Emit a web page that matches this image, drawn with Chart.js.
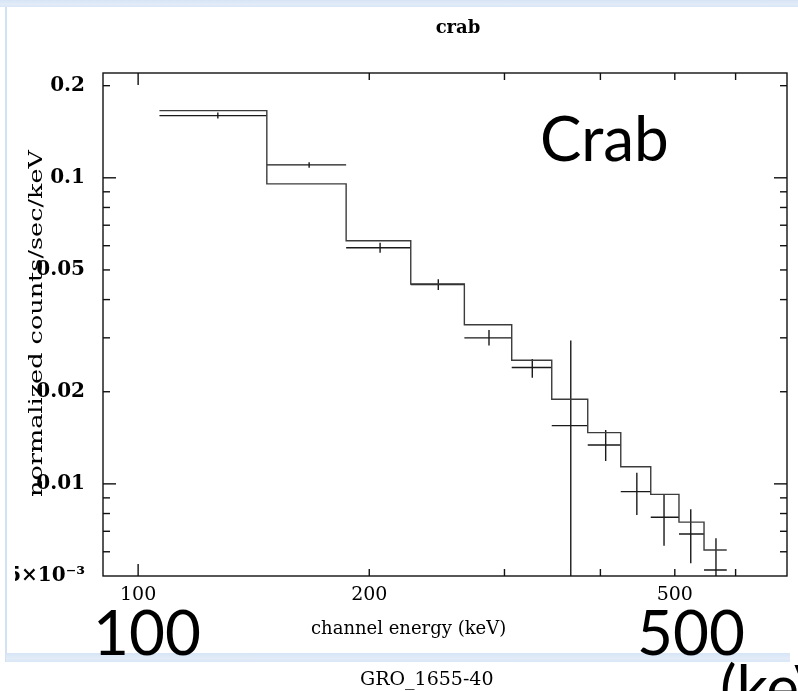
<!DOCTYPE html>
<html>
<head>
<meta charset="utf-8">
<script src="https://cdn.jsdelivr.net/npm/chart.js@4.4.1/dist/chart.umd.min.js"></script>
<style>
  html, body { margin: 0; padding: 0; background: #ffffff; overflow: hidden; }
  #page { position: relative; width: 798px; height: 691px; overflow: hidden; background: #ffffff; }
  .band { position: absolute; background: linear-gradient(180deg, #d6e4f5 0%, #e3ecf8 60%, #d9e6f6 100%); }
  #bandTop { left: 0; top: 0; width: 798px; height: 7px; }
  #bandBottom { left: 6px; top: 653px; width: 784px; height: 9px; }
  #lineLeft { position: absolute; left: 5px; top: 7px; width: 2px; height: 655px; background: #d3e2f3; }
  #chartBox { position: absolute; left: 15px; top: 0; width: 783px; height: 691px; }
</style>
</head>
<body>
<div id="page">
  <div id="bandTop" class="band"></div>
  <div id="lineLeft"></div>
  <div id="bandBottom" class="band"></div>
  <div id="chartBox"><canvas id="c" width="783" height="691"></canvas></div>
</div>
<script>
// ---- data (channel energy in keV, rate in normalized counts/sec/keV) ----
const binLo     = [106.6, 147.1, 186.6, 226.5, 266.0, 306.6, 345.7, 385.1, 425.2, 465.2, 506.3, 545.8];
const binHi     = [147.1, 186.6, 226.5, 266.0, 306.6, 345.7, 385.1, 425.2, 465.2, 506.3, 545.8, 584.3];
const binCenter = [127.0, 167.0, 206.6, 246.0, 286.4, 326.1, 366.0, 406.4, 446.2, 484.1, 524.5, 565.7];
const dataRate  = [0.1597, 0.1102, 0.0591, 0.0448, 0.0300, 0.0240, 0.0155, 0.0134, 0.00943, 0.00778, 0.00686, 0.00523];
const errHigh   = [0.1633, 0.1125, 0.0614, 0.0466, 0.0318, 0.0256, 0.0294, 0.0150, 0.01088, 0.00920, 0.00826, 0.00664];
const errLow    = [0.1561, 0.1079, 0.0569, 0.0430, 0.0283, 0.0222, 0.0040, 0.01188, 0.00791, 0.00628, 0.00550, 0.00490];
const modelRate = [0.1658, 0.0955, 0.0623, 0.0450, 0.0331, 0.02535, 0.0189, 0.0147, 0.01138, 0.00924, 0.00750, 0.00608];

const xTickValues = [100, 200, 500];
const xTickLabels = ['100', '200', '500'];
const yTickValues = [0.005, 0.01, 0.02, 0.05, 0.1, 0.2];
const yTickLabels = ['5\u00d710\u207b\u00b3', '0.01', '0.02', '0.05', '0.1', '0.2'];
const xMajorMarks = [100];
const xMinorMarks = [200, 300, 400, 500, 600];
const yMajorMarks = [0.01, 0.1];
const yMinorMarks = [0.006, 0.007, 0.008, 0.009, 0.02, 0.03, 0.04, 0.05, 0.06, 0.07, 0.08, 0.09, 0.2];

const plotTitle = 'crab';
const xTitle = 'channel energy (keV)';
const yTitle = 'normalized counts/sec/keV';
const footerText = 'GRO_1655-40';
const slideTexts = [
  { text: 'Crab', x: 540, y: 161 },
  { text: '100',  x: 93,  y: 655 },
  { text: '500',  x: 637, y: 655 },
  { text: '(keV)', x: 720, y: 710 }
];

// ---- build library datasets from the arrays ----
const modelPoints = [];
binLo.forEach((lo, i) => {
  modelPoints.push({ x: lo, y: modelRate[i] });
  modelPoints.push({ x: binHi[i], y: modelRate[i] });
});
const crossPoints = [];
binLo.forEach((lo, i) => {
  crossPoints.push({ x: lo, y: dataRate[i] });
  crossPoints.push({ x: binHi[i], y: dataRate[i] });
  crossPoints.push({ x: binCenter[i], y: null });
  crossPoints.push({ x: binCenter[i], y: errLow[i] });
  crossPoints.push({ x: binCenter[i], y: errHigh[i] });
  crossPoints.push({ x: binCenter[i], y: null });
});

const OX = 15; // canvas offset inside the page

const framePlugin = {
  id: 'frameTicks',
  afterDatasetsDraw(chart) {
    const { ctx, chartArea: a, scales: { x, y } } = chart;
    ctx.save();
    ctx.strokeStyle = '#111';
    ctx.lineWidth = 1.4;
    ctx.strokeRect(a.left, a.top, a.right - a.left, a.bottom - a.top);
    const seg = (x1, y1, x2, y2) => { ctx.beginPath(); ctx.moveTo(x1, y1); ctx.lineTo(x2, y2); ctx.stroke(); };
    const xm = (vals, len) => vals.forEach(v => {
      const p = x.getPixelForValue(v);
      seg(p, a.bottom, p, a.bottom - len);
      seg(p, a.top, p, a.top + len);
    });
    const ym = (vals, len) => vals.forEach(v => {
      const p = y.getPixelForValue(v);
      seg(a.left, p, a.left + len, p);
      seg(a.right, p, a.right - len, p);
    });
    xm(xMajorMarks, 12); xm(xMinorMarks, 7);
    ym(yMajorMarks, 13); ym(yMinorMarks, 7);
    ctx.restore();
  },
  afterDraw(chart) {
    const { ctx } = chart;
    ctx.save();
    ctx.fillStyle = '#000';
    // y axis title, stretched along the axis like the original
    ctx.save();
    ctx.translate(42 - OX, 323.5);
    ctx.rotate(-Math.PI / 2);
    ctx.font = '19px "DejaVu Serif"';
    const w = ctx.measureText(yTitle).width;
    ctx.scale(347 / w, 1);
    ctx.textAlign = 'center';
    ctx.textBaseline = 'alphabetic';
    ctx.fillText(yTitle, 0, 0);
    ctx.restore();
    // x axis title
    ctx.font = '18px "DejaVu Serif"';
    ctx.textAlign = 'left';
    ctx.textBaseline = 'alphabetic';
    ctx.fillText(xTitle, 311 - OX, 634);
    // plot title
    ctx.font = 'bold 18px "DejaVu Serif"';
    ctx.textAlign = 'center';
    ctx.fillText(plotTitle, 458 - OX, 33);
    // footer
    ctx.textAlign = 'left';
    ctx.font = '19px "DejaVu Serif"';
    ctx.fillText(footerText, 360 - OX, 685);
    // slide annotations
    ctx.font = '62px Lato';
    slideTexts.forEach(t => ctx.fillText(t.text, t.x - OX, t.y));
    ctx.restore();
  }
};

new Chart(document.getElementById('c'), {
  type: 'scatter',
  data: {
    datasets: [
      { label: 'model', data: modelPoints, showLine: true, borderColor: '#3c3c3c', borderWidth: 1.4,
        pointRadius: 0, pointHoverRadius: 0, tension: 0, spanGaps: false },
      { label: 'data', data: crossPoints, showLine: true, borderColor: '#1a1a1a', borderWidth: 1.4,
        pointRadius: 0, pointHoverRadius: 0, tension: 0, spanGaps: false }
    ]
  },
  options: {
    responsive: false,
    animation: false,
    devicePixelRatio: 1,
    layout: { padding: { top: 73, right: 11, bottom: 0, left: 0 } },
    plugins: { legend: { display: false }, tooltip: { enabled: false }, title: { display: false } },
    scales: {
      x: {
        type: 'logarithmic', position: 'bottom', min: 90, max: 700, bounds: 'data',
        grid: { display: false, drawTicks: false }, border: { display: false },
        afterBuildTicks: s => { s.ticks = xTickValues.map(v => ({ value: v })); },
        afterFit: s => { s.height = 115; },
        ticks: {
          autoSkip: false, maxRotation: 0, minRotation: 0, padding: 8, color: '#000',
          font: { family: 'DejaVu Serif', size: 19 },
          callback: v => { const i = xTickValues.indexOf(v); return i >= 0 ? xTickLabels[i] : ''; }
        }
      },
      y: {
        type: 'logarithmic', position: 'left', min: 0.005, max: 0.22, bounds: 'data',
        grid: { display: false, drawTicks: false }, border: { display: false },
        afterBuildTicks: s => { s.ticks = yTickValues.map(v => ({ value: v })); },
        afterFit: s => { s.width = 103 - OX; },
        ticks: {
          autoSkip: false, padding: 18, color: '#000',
          font: { family: 'DejaVu Serif', size: 20, weight: 'bold' },
          callback: v => { const i = yTickValues.indexOf(v); return i >= 0 ? yTickLabels[i] : ''; }
        }
      }
    }
  },
  plugins: [framePlugin]
});
</script>
</body>
</html>
